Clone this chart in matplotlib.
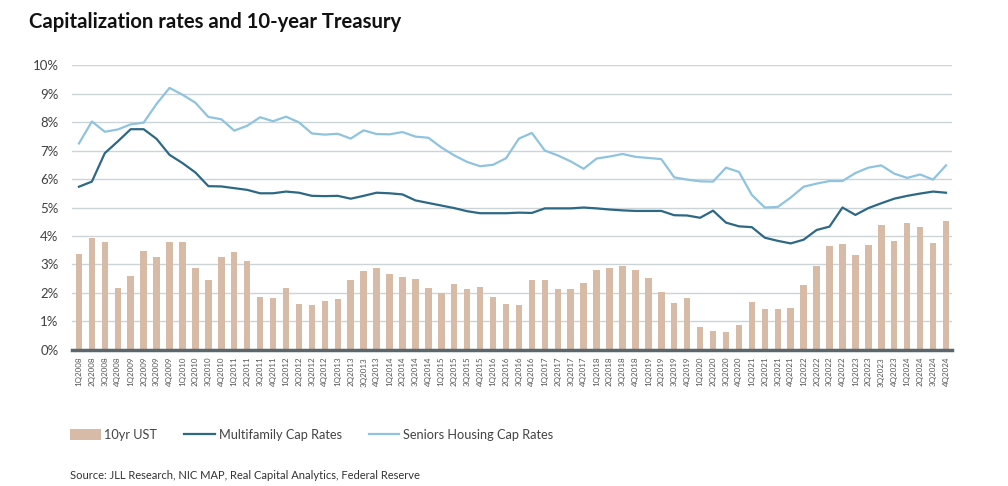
import matplotlib.pyplot as plt
import numpy as np
from matplotlib.ticker import FuncFormatter

plt.rcParams['font.family'] = ['Lato', 'DejaVu Sans']

# Trimestres 1Q2008 .. 4Q2024
quarters = [f"{q}Q{y}" for y in range(2008, 2025) for q in range(1, 5)]

ust_10yr = [3.38, 3.94, 3.78, 2.18, 2.61, 3.49, 3.25, 3.79, 3.78, 2.88, 2.47, 3.25,
            3.43, 3.12, 1.87, 1.83, 2.16, 1.60, 1.59, 1.72, 1.80, 2.44, 2.76, 2.86,
            2.68, 2.55, 2.48, 2.16, 2.00, 2.30, 2.13, 2.20, 1.85, 1.60, 1.58, 2.45,
            2.45, 2.15, 2.15, 2.36, 2.80, 2.87, 2.95, 2.80, 2.53, 2.03, 1.66, 1.82,
            0.82, 0.68, 0.63, 0.88, 1.70, 1.42, 1.45, 1.47, 2.28, 2.94, 3.64, 3.71,
            3.32, 3.70, 4.40, 3.81, 4.45, 4.31, 3.76, 4.52]

multifamily = [5.73, 5.91, 6.91, 7.32, 7.75, 7.75, 7.41, 6.85, 6.56, 6.23, 5.75, 5.74,
               5.68, 5.62, 5.50, 5.50, 5.56, 5.52, 5.41, 5.40, 5.41, 5.31, 5.41, 5.52,
               5.50, 5.46, 5.25, 5.16, 5.07, 4.98, 4.87, 4.80, 4.80, 4.80, 4.82, 4.81,
               4.97, 4.97, 4.97, 5.00, 4.97, 4.93, 4.90, 4.88, 4.88, 4.88, 4.73, 4.72,
               4.64, 4.89, 4.47, 4.34, 4.31, 3.94, 3.83, 3.74, 3.87, 4.21, 4.33, 5.00,
               4.74, 4.98, 5.15, 5.31, 5.41, 5.49, 5.56, 5.52]

seniors = [7.25, 8.02, 7.66, 7.74, 7.92, 7.98, 8.64, 9.20, 8.96, 8.68, 8.18, 8.10,
           7.70, 7.87, 8.17, 8.03, 8.19, 7.99, 7.60, 7.56, 7.59, 7.42, 7.71, 7.58,
           7.57, 7.65, 7.49, 7.45, 7.11, 6.83, 6.60, 6.45, 6.50, 6.73, 7.42, 7.62,
           7.00, 6.83, 6.62, 6.36, 6.72, 6.79, 6.88, 6.78, 6.74, 6.70, 6.06, 5.98,
           5.92, 5.91, 6.40, 6.25, 5.44, 5.00, 5.02, 5.35, 5.73, 5.84, 5.93, 5.93,
           6.21, 6.40, 6.48, 6.19, 6.04, 6.16, 5.98, 6.48]

x = np.arange(len(quarters))

fig = plt.figure(figsize=(10.08, 4.86), dpi=100)
ax = fig.add_axes([0.0719, 0.280, 0.873, 0.586])

b = ax.bar(x, ust_10yr, width=0.5, color="#D8BBA6", label="10yr UST", zorder=2)
l1, = ax.plot(x, multifamily, color="#2D6885", lw=1.6, label="Multifamily Cap Rates", zorder=3)
l2, = ax.plot(x, seniors, color="#8FC3DF", lw=1.6, label="Seniors Housing Cap Rates", zorder=3)

ax.set_xlim(-0.5, len(quarters) - 0.5)
ax.set_ylim(0, 10)
ax.set_yticks(np.arange(0, 11, 1))
ax.yaxis.set_major_formatter(FuncFormatter(lambda v, p: f"{int(v)}%"))
ax.set_xticks(x)
ax.set_xticklabels(quarters, rotation=90, fontsize=5.8, color="#555555")
ax.tick_params(axis="y", labelsize=9.5, labelcolor="#404040", length=0, pad=10)
ax.tick_params(axis="x", length=0, pad=5)

ax.grid(axis="y", color="#CDD4D8", lw=1, zorder=0)
for s in ["top", "right", "left"]:
    ax.spines[s].set_visible(False)
ax.spines["bottom"].set_color("#5C676D")
ax.spines["bottom"].set_linewidth(2.5)
ax.spines["bottom"].set_zorder(4)

fig.text(0.029, 0.955, "Capitalization rates and 10-year Treasury", fontsize=14.6,
         fontweight="bold", color="#111111", va="center")

fig.legend([b, l1, l2], ["10yr UST", "Multifamily Cap Rates", "Seniors Housing Cap Rates"],
           loc="center left", bbox_to_anchor=(0.058, 0.105), ncol=3, frameon=False,
           fontsize=9.2, handlelength=2.4, handletextpad=0.3, columnspacing=2.1,
           labelcolor="#444444", handleheight=0.9)

fig.text(0.069, 0.021, "Source: JLL Research, NIC MAP, Real Capital Analytics, Federal Reserve",
         fontsize=8.0, color="#333333", va="center")

fig.savefig("out.png", dpi=100)
